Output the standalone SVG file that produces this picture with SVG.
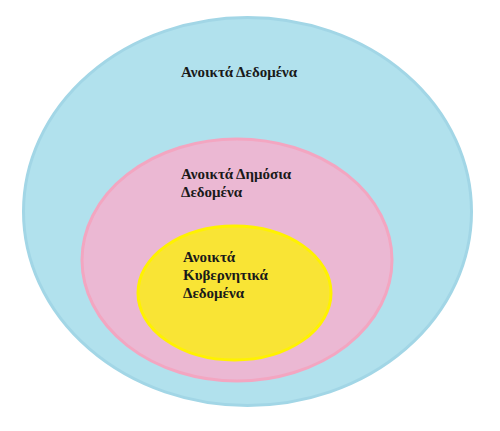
<svg xmlns="http://www.w3.org/2000/svg" width="500" height="431" viewBox="0 0 500 431">
<style>
text{font-family:"Liberation Serif","DejaVu Serif",serif;font-weight:bold;font-size:15px;fill:#1a1a1a}
</style>
<rect width="500" height="431" fill="#ffffff"/>
<g id="open-data">
<ellipse cx="247.5" cy="211.5" rx="224" ry="194" fill="#b1e1ed" stroke="#a2d6e6" stroke-width="3"/>
<text x="181" y="77">Ανοικτά Δεδομένα</text>
</g>
<g id="open-public-data">
<ellipse cx="237" cy="260" rx="155" ry="121" fill="#ebb8d3" stroke="#f3a6c1" stroke-width="3"/>
<text x="181" y="179">Ανοικτά Δημόσια</text>
<text x="181" y="197">Δεδομένα</text>
</g>
<g id="open-government-data">
<ellipse cx="234.5" cy="293" rx="96.5" ry="67" fill="#f9e435" stroke="#fff200" stroke-width="3"/>
<text x="183" y="262">Ανοικτά</text>
<text x="183" y="280">Κυβερνητικά</text>
<text x="183" y="298">Δεδομένα</text>
</g>
<g id="connectors"/>
</svg>
